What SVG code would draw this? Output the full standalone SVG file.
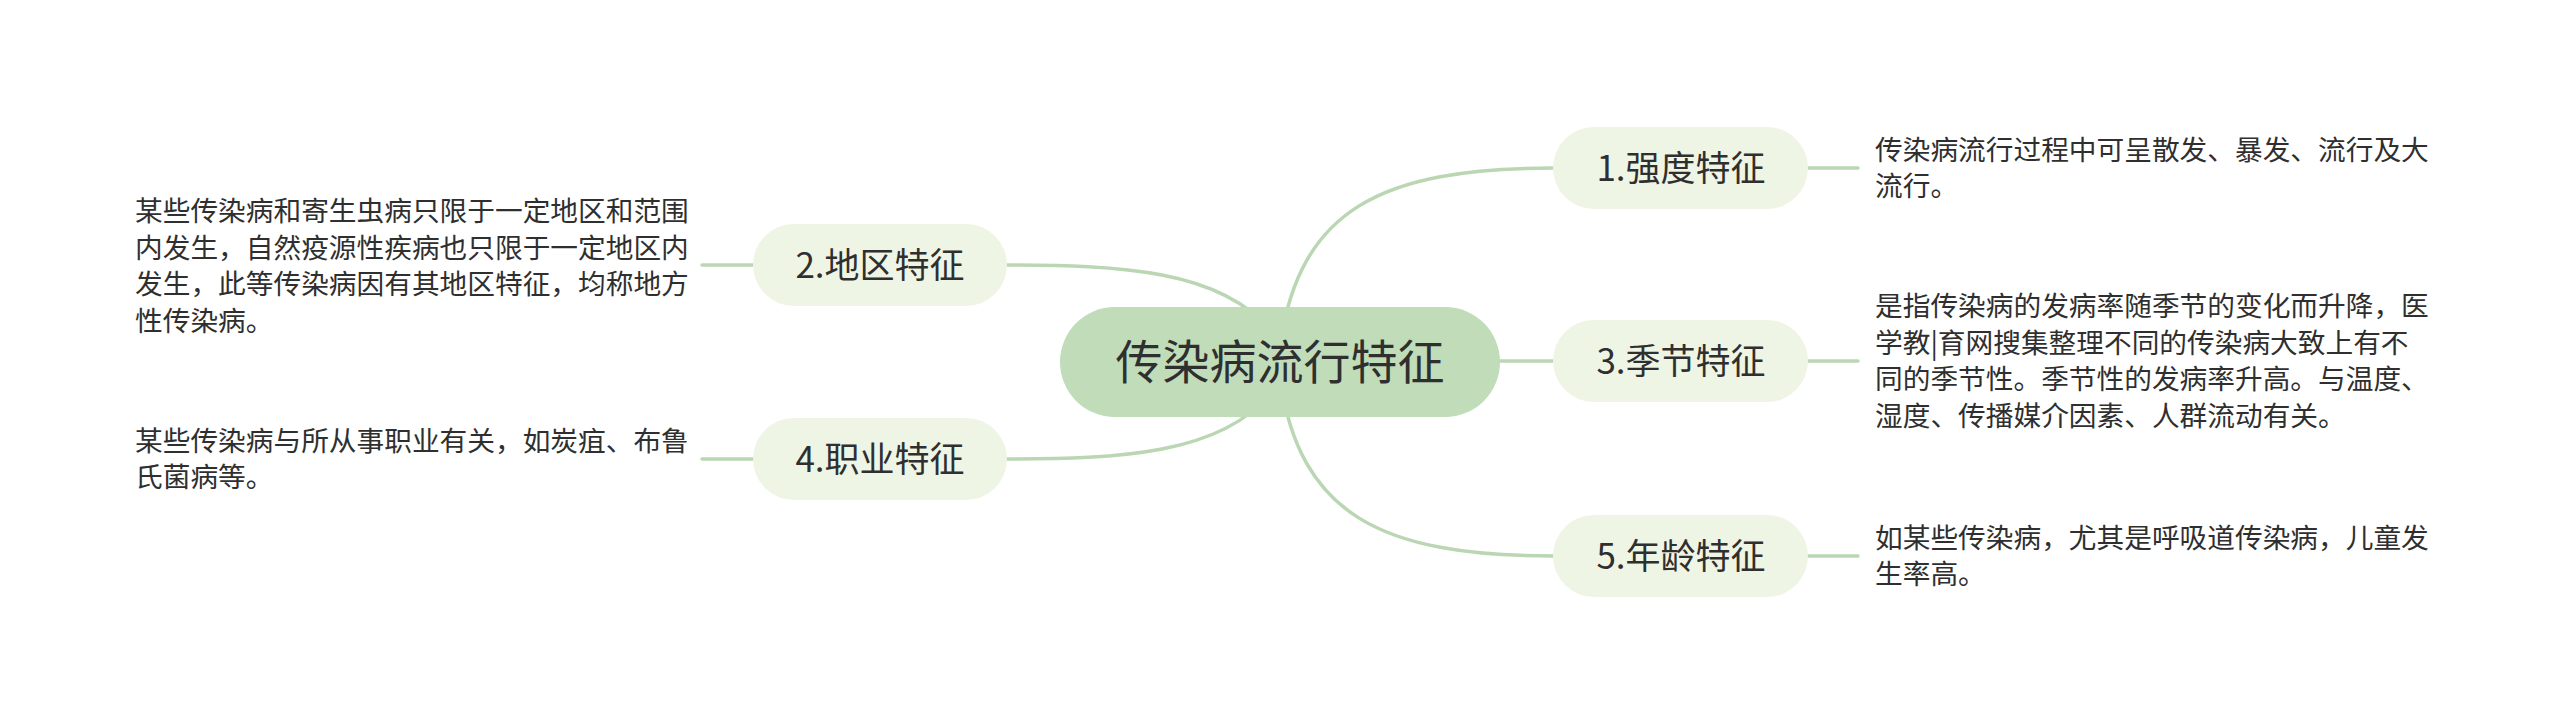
<svg xmlns="http://www.w3.org/2000/svg" width="2560" height="724" viewBox="0 0 2560 724">
<style>
.bg{fill:#ffffff}
.conn{fill:none;stroke:#bad6b3;stroke-width:3.5;stroke-linecap:round}
.root{fill:#c0dcb9}
.sub{fill:#eff5e5}
.t{font-family:"Noto Sans CJK SC","Noto Sans",sans-serif;fill:#2f2f2f}
.rt{font-size:47px;text-anchor:middle}
.st{font-size:35px;text-anchor:middle}
.dt{font-size:27.7px}
</style>
<rect class="bg" x="0" y="0" width="2560" height="724"/>
<g id="connectors">
<path class="conn" d="M1280,345 C1300,210 1380,168 1553,168"/>
<path class="conn" d="M1499,361 L1553,361"/>
<path class="conn" d="M1280,379 C1300,514 1380,556 1553,556"/>
<path class="conn" d="M1270,330 C1220,270 1120,265 1006,265"/>
<path class="conn" d="M1270,394 C1220,454 1120,459 1006,459"/>
<path class="conn" d="M1808,168 L1858,168"/>
<path class="conn" d="M1808,361 L1858,361"/>
<path class="conn" d="M1808,556 L1858,556"/>
<path class="conn" d="M702,265 L753,265"/>
<path class="conn" d="M702,459 L753,459"/>
</g>
<g id="root">
<rect class="root" x="1060" y="307" width="440" height="110" rx="55"/>
<text class="t rt" x="1280" y="379">传染病流行特征</text>
</g>
<g id="n1">
<rect class="sub" x="1553" y="127" width="255" height="82" rx="41"/>
<text class="t st" x="1681" y="180.6">1.强度特征</text>
</g>
<g id="n3">
<rect class="sub" x="1553" y="320" width="255" height="82" rx="41"/>
<text class="t st" x="1681" y="373.6">3.季节特征</text>
</g>
<g id="n5">
<rect class="sub" x="1553" y="515" width="255" height="82" rx="41"/>
<text class="t st" x="1681" y="568.6">5.年龄特征</text>
</g>
<g id="n2">
<rect class="sub" x="753" y="224" width="254" height="82" rx="41"/>
<text class="t st" x="880" y="277.6">2.地区特征</text>
</g>
<g id="n4">
<rect class="sub" x="753" y="418" width="254" height="82" rx="41"/>
<text class="t st" x="880" y="471.6">4.职业特征</text>
</g>
<g id="d1">
<text class="t dt" x="1875" y="159.6"><tspan x="1875">传染病流行过程中可呈散发、暴发、流行及大</tspan><tspan x="1875" dy="36.7">流行。</tspan></text>
</g>
<g id="d3">
<text class="t dt" x="1875" y="316"><tspan x="1875">是指传染病的发病率随季节的变化而升降，医</tspan><tspan x="1875" dy="36.7">学教|育网搜集整理不同的传染病大致上有不</tspan><tspan x="1875" dy="36.7">同的季节性。季节性的发病率升高。与温度、</tspan><tspan x="1875" dy="36.7">湿度、传播媒介因素、人群流动有关。</tspan></text>
</g>
<g id="d5">
<text class="t dt" x="1875" y="547.6"><tspan x="1875">如某些传染病，尤其是呼吸道传染病，儿童发</tspan><tspan x="1875" dy="36.7">生率高。</tspan></text>
</g>
<g id="d2">
<text class="t dt" x="135" y="221"><tspan x="135">某些传染病和寄生虫病只限于一定地区和范围</tspan><tspan x="135" dy="36.7">内发生，自然疫源性疾病也只限于一定地区内</tspan><tspan x="135" dy="36.7">发生，此等传染病因有其地区特征，均称地方</tspan><tspan x="135" dy="36.7">性传染病。</tspan></text>
</g>
<g id="d4">
<text class="t dt" x="135" y="450.6"><tspan x="135">某些传染病与所从事职业有关，如炭疽、布鲁</tspan><tspan x="135" dy="36.7">氏菌病等。</tspan></text>
</g>
</svg>
